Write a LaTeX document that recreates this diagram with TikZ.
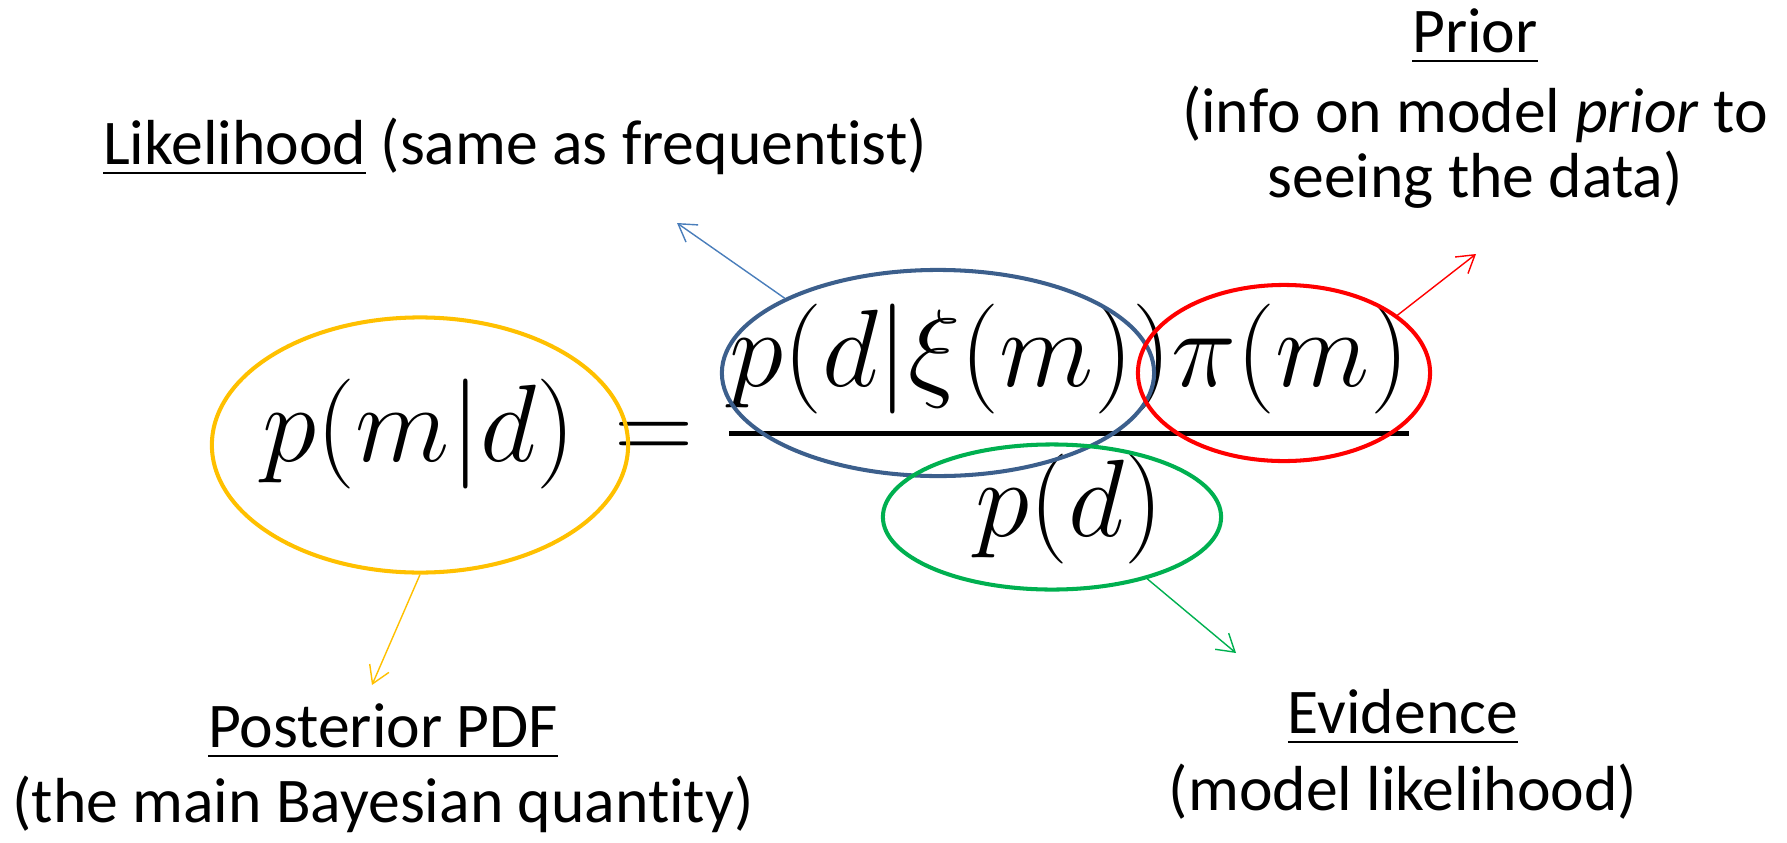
\documentclass[tikz,border=0pt]{standalone}
\usepackage{exscale}
\usepackage{fontspec}
\setmainfont{Carlito}[Ligatures=NoCommon]
\usetikzlibrary{shapes.geometric, arrows.meta}

\definecolor{postcol}{RGB}{255,192,0}
\definecolor{likecol}{RGB}{60,95,140}
\definecolor{likearr}{RGB}{74,126,187}
\definecolor{priorcol}{RGB}{255,0,0}
\definecolor{evidcol}{RGB}{0,176,80}

\tikzstyle{ring} = [ellipse, draw, line width=1.15pt, inner sep=0pt]
\tikzstyle{lbl} = [inner sep=0pt, anchor=base, font=\fontsize{18.1}{18.5}\selectfont]
\tikzstyle{arrow} = [line width=0.4pt, -{Straight Barb[length=0.17cm, width=0.21cm]}]

\begin{document}
\begin{tikzpicture}[x=0.01cm, y=-0.01cm]
      \useasboundingbox (0,0) rectangle (1787,842);

      % the theorem
      \node[inner sep=0pt, anchor=base west, font=\Huge, scale=1.257] (bayes) at (262,461)
        {$\displaystyle p(m|d) \mkern1.3mu = \frac{p(d|\xi(m))\pi(m)}{p(d)}$};

      % rings round the terms
      \node[ring, draw=postcol, minimum width=4.16cm, minimum height=2.55cm] (postring) at (420,445) {};
      \node[ring, draw=likecol, minimum width=4.32cm, minimum height=2.06cm] (likering) at (938,373) {};
      \node[ring, draw=priorcol, minimum width=2.92cm, minimum height=1.76cm] (priorring) at (1284,373) {};
      \node[ring, draw=evidcol, minimum width=3.38cm, minimum height=1.45cm] (evidring) at (1052,517) {};

      % labels
      \node[lbl] (liketitle) at (515,164) {\underline{Likelihood} (same as frequentist)};
      \node[lbl] (priortitle) at (1475,52) {\underline{Prior}};
      \node[lbl] (priortext) at (1475,132) {(info on model \textit{prior} to};
      \node[lbl] (priortext2) at (1475,197) {seeing the data)};
      \node[lbl] (posttitle) at (383,747) {\underline{Posterior PDF}};
      \node[lbl] (posttext) at (383,822) {(the main Bayesian quantity)};
      \node[lbl] (evidtitle) at (1403,733) {\underline{Evidence}};
      \node[lbl] (evidtext) at (1403,810) {(model likelihood)};

      % arrows
      \coordinate (liketip) at (677,223);
      \coordinate (priortip) at (1476,254);
      \coordinate (posttip) at (372,685);
      \coordinate (evidtip) at (1236,653);
      \draw[arrow, likearr] (likering.154) -- (liketip);
      \draw[arrow, priorcol] (priorring.27) -- (priortip);
      \draw[arrow, postcol] (postring.south) -- (posttip);
      \draw[arrow, evidcol] (evidring.-33) -- (evidtip);
\end{tikzpicture}
\end{document}
